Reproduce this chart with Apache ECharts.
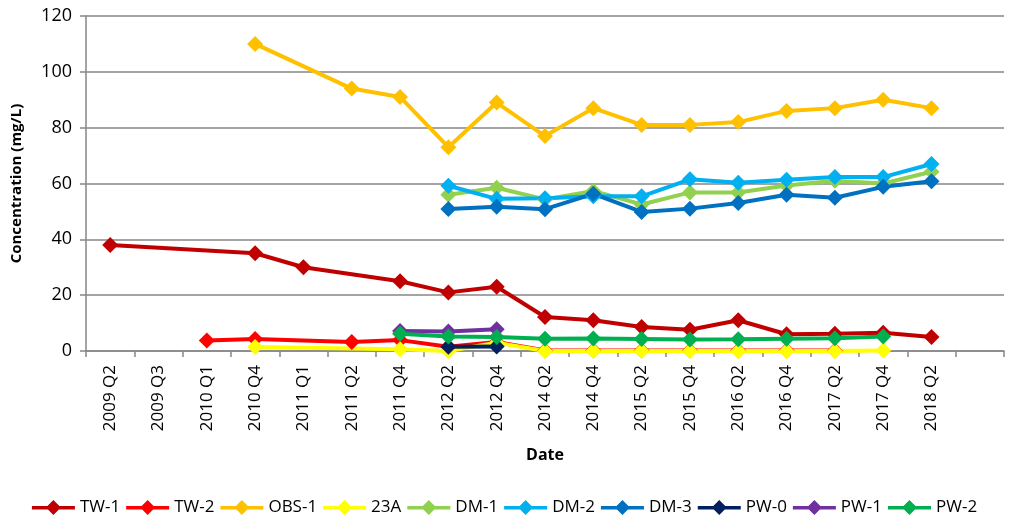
<!DOCTYPE html>
<html>
<head>
<meta charset="utf-8">
<script src="https://cdn.jsdelivr.net/npm/echarts@6/dist/echarts.min.js"></script>
<style>
  html, body { margin: 0; padding: 0; background: #fff; }
  #chart { width: 1009px; height: 523px; }
</style>
</head>
<body>
<div id="chart"></div>
<script>
// categories (last slot is empty, like the source chart)
const dates = ['2009 Q2', '2009 Q3', '2010 Q1', '2010 Q4', '2011 Q1', '2011 Q2', '2011 Q4', '2012 Q2', '2012 Q4',
  '2014 Q2', '2014 Q4', '2015 Q2', '2015 Q4', '2016 Q2', '2016 Q4', '2017 Q2', '2017 Q4', '2018 Q2', ''];

const tw1 = [38, null, null, 35, 30, null, 25, 21, 23, 12.2, 11, 8.6, 7.6, 11, 6, 6.2, 6.5, 5, null];
const tw2 = [null, null, 3.8, 4.3, null, 3.2, 3.9, 1.5, 3.2, 0.2, 0.2, 0.2, 0.2, 0.2, 0.2, 0.2, null, null, null];
const obs1 = [null, null, null, 110, null, 94, 91, 73, 89, 77, 87, 81, 81, 82, 86, 87, 90, 87, null];
const a23 = [null, null, null, 1.4, null, null, 0.6, 0, 3, 0, 0, 0, 0, 0, 0, 0, 0.2, null, null];
const dm1 = [null, null, null, null, null, null, null, 56, 58.5, 54.3, 57.3, 52.5, 56.8, 56.8, 59.3, 61, 60, 64.2, null];
const dm2 = [null, null, null, null, null, null, null, 59.2, 54.5, 54.7, 55.4, 55.4, 61.5, 60.3, 61.3, 62.3, 62.3, 67, null];
const dm3 = [null, null, null, null, null, null, null, 50.9, 51.7, 50.8, 56.3, 49.8, 51, 53, 56, 54.9, 58.8, 60.8, null];
const pw0 = [null, null, null, null, null, null, null, 1.5, 1.6, null, null, null, null, null, null, null, null, null, null];
const pw1 = [null, null, null, null, null, null, 7.2, 7, 7.8, null, null, null, null, null, null, null, null, null, null];
const pw2 = [null, null, null, null, null, null, 6.2, 5.2, 5, 4.4, 4.5, 4.3, 4.1, 4.2, 4.4, 4.6, 5.2, null, null];

const seriesNames = ['TW-1', 'TW-2', 'OBS-1', '23A', 'DM-1', 'DM-2', 'DM-3', 'PW-0', 'PW-1', 'PW-2'];
const seriesData = [tw1, tw2, obs1, a23, dm1, dm2, dm3, pw0, pw1, pw2];
const colors = ['#C00000', '#FF0000', '#FFC000', '#FFFF00', '#92D050', '#00B0F0', '#0070C0', '#002060', '#7030A0', '#00B050'];

const chart = echarts.init(document.getElementById('chart'));
const font = 'Open Sans, Liberation Sans, sans-serif';

// thick line with a diamond in the middle, like the Excel legend keys
const legendIcon = 'path://M0,6L43,6L43,9.5L0,9.5Z M21.5,0L29,7.5L21.5,15L14,7.5Z';

const option = {
  animation: false,
  color: colors,
  grid: { left: 86, right: 5, top: 16, bottom: 172 },
  legend: {
    bottom: 2,
    left: 'center',
    icon: legendIcon,
    itemWidth: 43,
    itemHeight: 15,
    itemGap: 6,
    textStyle: { fontFamily: font, fontSize: 17, color: '#000' },
    data: seriesNames
  },
  xAxis: {
    type: 'category',
    data: dates,
    name: 'Date',
    nameLocation: 'middle',
    nameGap: 96,
    nameTextStyle: { fontFamily: font, fontSize: 16, fontWeight: 'bold', color: '#000' },
    axisLine: { lineStyle: { color: '#868686', width: 1.5 } },
    axisTick: { show: true, length: 6, lineStyle: { color: '#868686', width: 1.5 } },
    axisLabel: { rotate: 90, interval: 0, margin: 14, fontFamily: font, fontSize: 17, color: '#000' }
  },
  yAxis: {
    type: 'value',
    min: 0,
    max: 120,
    interval: 20,
    name: 'Concentration (mg/L)',
    nameLocation: 'middle',
    nameGap: 62,
    nameTextStyle: { fontFamily: font, fontSize: 15, fontWeight: 'bold', color: '#000' },
    axisLine: { show: true, lineStyle: { color: '#868686', width: 1.5 } },
    axisTick: { show: true, length: 6, lineStyle: { color: '#868686', width: 1.5 } },
    axisLabel: { margin: 14, fontFamily: font, fontSize: 18, color: '#000' },
    splitLine: { lineStyle: { color: '#868686', width: 1.5 } }
  },
  series: seriesNames.map((name, i) => ({
    name: name,
    type: 'line',
    data: seriesData[i],
    connectNulls: true,
    symbol: 'diamond',
    symbolSize: 16,
    showAllSymbol: true,
    lineStyle: { width: 4, color: colors[i] },
    itemStyle: { color: colors[i] }
  }))
};

chart.setOption(option);
</script>
</body>
</html>
